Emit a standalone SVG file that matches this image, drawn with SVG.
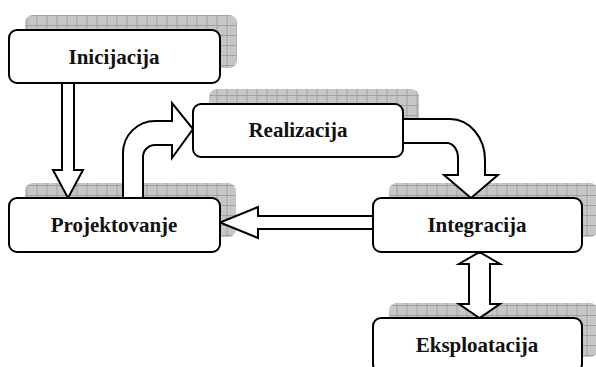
<svg xmlns="http://www.w3.org/2000/svg" width="596" height="367" viewBox="0 0 596 367">
<defs>
<pattern id="grid" width="10" height="10" patternUnits="userSpaceOnUse" x="6.5" y="5">
<rect width="10" height="10" fill="#c6c6c6"/>
<path d="M0.5,0 V10 M0,0.5 H10" stroke="#a2a2a2" stroke-width="1" fill="none"/>
</pattern>
</defs>
<style>
.shadow{fill:url(#grid);}
.box{fill:#fff;stroke:#000;stroke-width:2;}
.lbl{font-family:"Liberation Serif","Times New Roman",serif;font-weight:bold;font-size:21px;text-anchor:middle;fill:#111;}
.arr{fill:#fff;stroke:#000;stroke-width:2;stroke-linejoin:miter;}
</style>
<g id="shadows">
<rect class="shadow" x="25" y="15" width="212" height="53" rx="8"/>
<rect class="shadow" x="209" y="89" width="210" height="53" rx="8"/>
<rect class="shadow" x="25" y="183" width="211" height="54" rx="8"/>
<rect class="shadow" x="389" y="183" width="209" height="54" rx="8"/>
<rect class="shadow" x="389" y="303" width="209" height="54" rx="8"/>
</g>
<g id="connectors">
<path class="arr" d="M62,83 L62,170 L53,170 L68,198 L83,170 L74,170 L74,83 Z"/>
<path class="arr" d="M123,198 L123,153 A32,32 0 0 1 155,121 L172,121 L172,103 L193,129 L172,158 L172,145 L155,145 A12,12 0 0 0 143,157 L143,198 Z"/>
<path class="arr" d="M403,119 L450,119 A35,41 0 0 1 485,160 L485,175 L498,175 L471,198 L444,175 L458,175 L458,158 A11,15 0 0 0 447,143 L403,143 Z"/>
<path class="arr" d="M373,216 L258,216 L258,207 L220,222.5 L258,238 L258,229 L373,229 Z"/>
<path class="arr" d="M479.5,252 L500,264 L490,264 L490,304 L500,304 L479.5,318 L459,304 L469,304 L469,264 L459,264 Z"/>
</g>
<g id="inicijacija">
<rect class="box" x="9" y="30" width="211" height="53" rx="8"/>
<text class="lbl" x="114" y="64">Inicijacija</text>
</g>
<g id="realizacija">
<rect class="box" x="193" y="104" width="210" height="53" rx="8"/>
<text class="lbl" x="298" y="137">Realizacija</text>
</g>
<g id="projektovanje">
<rect class="box" x="9" y="198" width="211" height="54" rx="8"/>
<text class="lbl" x="114" y="232">Projektovanje</text>
</g>
<g id="integracija">
<rect class="box" x="373" y="198" width="209" height="54" rx="8"/>
<text class="lbl" x="477" y="232">Integracija</text>
</g>
<g id="eksploatacija">
<rect class="box" x="373" y="318" width="209" height="54" rx="8"/>
<text class="lbl" x="477" y="352">Eksploatacija</text>
</g>
</svg>
